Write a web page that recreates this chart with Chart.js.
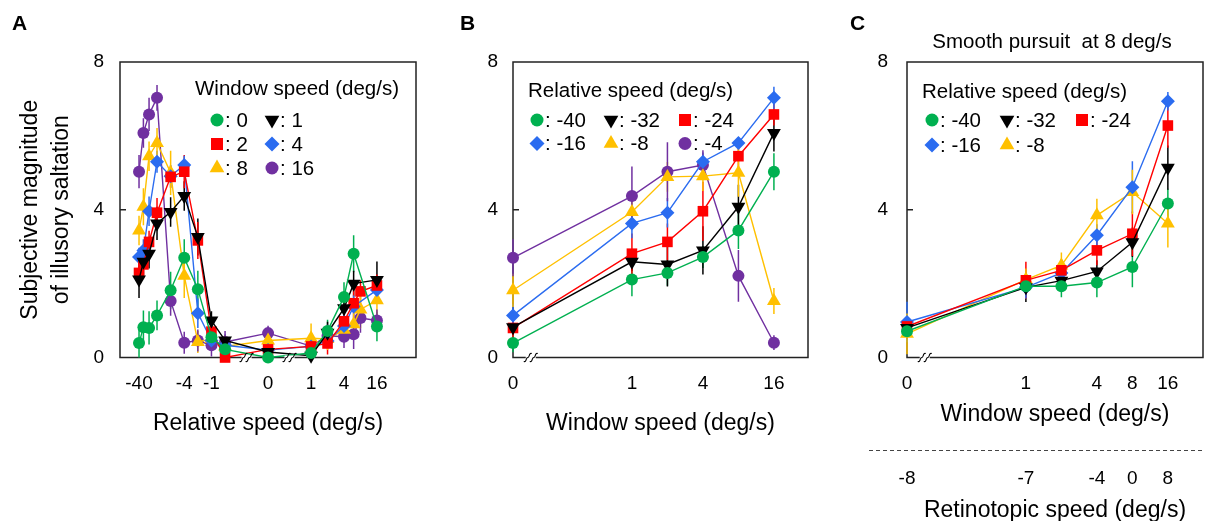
<!DOCTYPE html>
<html>
<head>
<meta charset="utf-8">
<script src="https://cdn.jsdelivr.net/npm/chart.js@4.4.0/dist/chart.umd.min.js"></script>
<style>
  html, body { margin: 0; padding: 0; background: #fff; }
  body { width: 1221px; height: 521px; position: relative; overflow: hidden; }
  canvas { position: absolute; left: 0; top: 0; }
</style>
</head>
<body>
<canvas id="chartA" width="1221" height="560"></canvas>
<canvas id="chartB" width="1221" height="560"></canvas>
<canvas id="chartC" width="1221" height="560"></canvas>
<script>
// ---- Panel A: magnitude vs relative speed, one line per window speed ----
const relSpeedsA = [-40, -32, -24, -16, -8, -4, -2, -1, -0.5, 0, 1, 2, 4, 6, 8, 16];
const relTicksA = [-40, -4, -1, 0, 1, 4, 16];
const windowLabelsA = ['0', '1', '2', '4', '8', '16'];
const magA_w0  = [0.39, 0.82, 0.80, 1.14, 1.82, 2.70, 1.85, 0.55, 0.22, 0.00, 0.12, 0.72, 1.64, 2.81, null, 0.84];
const magA_w1  = [2.11, 2.59, 2.81, 3.63, 3.94, 4.37, 3.26, 1.00, 0.46, 0.15, 0.05, 0.67, 1.33, 2.00, null, 2.10];
const magA_w2  = [2.29, 2.52, 3.13, 3.92, 4.89, 5.03, 3.17, 0.70, 0.00, 0.22, 0.30, 0.38, 0.98, 1.47, 1.79, 1.95];
const magA_w4  = [2.72, 2.90, 3.96, 5.30, 4.91, 5.21, 1.20, 0.46, 0.33, 0.20, 0.30, 0.45, 0.85, 1.38, null, 1.83];
const magA_w8  = [3.44, 4.08, 5.45, 5.81, 5.00, 2.21, 0.42, 0.50, 0.30, 0.46, 0.52, 0.50, 0.75, 0.90, 1.30, 1.55];
const magA_w16 = [5.03, 6.08, 6.58, 7.03, 1.53, 0.40, 0.46, 0.33, 0.42, 0.66, 0.31, 0.59, 0.56, 0.63, 1.07, 1.00];
const errA_w0  = [0.45, 0.45, 0.45, 0.40, 0.50, 0.50, 0.50, 0.30, 0.20, 0.05, 0.15, 0.30, 0.40, 0.50, null, 0.40];
const errA_w1  = [0.50, 0.40, 0.40, 0.45, 0.40, 0.40, 0.50, 0.25, 0.15, 0.10, 0.05, 0.30, 0.30, 0.35, null, 0.50];
const errA_w2  = [0.35, 0.35, 0.30, 0.40, 0.30, 0.45, 0.50, 0.30, 0.05, 0.15, 0.15, 0.30, 0.30, 0.40, 0.30, 0.30];
const errA_w4  = [0.25, 0.30, 0.40, 0.30, 0.30, 0.25, 0.40, 0.20, 0.30, 0.10, 0.10, 0.20, 0.30, 0.30, null, 0.30];
const errA_w8  = [0.40, 0.50, 0.40, 0.40, 0.60, 0.60, 0.30, 0.20, 0.30, 0.15, 0.40, 0.30, 0.30, 0.30, 0.50, 0.40];
const errA_w16 = [0.45, 0.40, 0.45, 0.35, 0.40, 0.30, 0.30, 0.30, 0.30, 0.20, 0.20, 0.30, 0.30, 0.40, 0.40, 0.30];

// ---- Panel B: magnitude vs window speed, one line per relative speed ----
const windowSpeedsB = [0, 1, 2, 4, 8, 16];
const windowTicksB = [0, 1, 4, 16];
const relLabelsB = ['-40', '-32', '-24', '-16', '-8', '-4'];
const magB_r40 = [0.39, 2.11, 2.29, 2.72, 3.44, 5.03];
const magB_r32 = [0.82, 2.59, 2.52, 2.90, 4.08, 6.08];
const magB_r24 = [0.80, 2.81, 3.13, 3.96, 5.45, 6.58];
const magB_r16 = [1.14, 3.63, 3.92, 5.30, 5.81, 7.03];
const magB_r8  = [1.82, 3.94, 4.89, 4.91, 5.00, 1.53];
const magB_r4  = [2.70, 4.37, 5.03, 5.21, 2.21, 0.40];
const errB_r40 = [0.25, 0.45, 0.35, 0.30, 0.50, 0.50];
const errB_r32 = [0.20, 0.25, 0.60, 0.65, 0.60, 0.50];
const errB_r24 = [0.30, 0.55, 0.50, 0.80, 0.30, 0.30];
const errB_r16 = [0.30, 0.40, 0.40, 0.25, 0.15, 0.30];
const errB_r8  = [0.45, 0.30, 0.40, 0.40, 0.65, 0.35];
const errB_r4  = [0.50, 0.80, 0.80, 0.40, 0.70, 0.20];

// ---- Panel C: smooth pursuit at 8 deg/s ----
const windowSpeedsC = [0, 1, 2, 4, 8, 16];
const windowTicksC = [0, 1, 4, 8, 16];
const retinoTicksC = [-8, -7, -4, 0, 8];
const relLabelsC = ['-40', '-32', '-24', '-16', '-8'];
const magC_r40 = [0.71, 1.93, 1.93, 2.03, 2.45, 4.17];
const magC_r32 = [0.80, 1.90, 2.08, 2.33, 3.12, 5.14];
const magC_r24 = [0.84, 2.09, 2.36, 2.90, 3.35, 6.28];
const magC_r16 = [0.96, 1.90, 2.29, 3.31, 4.61, 6.94];
const magC_r8  = [0.64, 2.11, 2.49, 3.85, 4.48, 3.63];
const errC_r40 = [0.30, 0.25, 0.30, 0.40, 0.55, 0.40];
const errC_r32 = [0.30, 0.40, 0.30, 0.30, 0.40, 0.60];
const errC_r24 = [0.30, 0.50, 0.30, 0.40, 0.60, 0.60];
const errC_r16 = [0.55, 0.30, 0.20, 0.30, 0.70, 0.25];
const errC_r8  = [0.55, 0.30, 0.35, 0.45, 0.60, 0.65];

const FONT = "'Liberation Sans', Arial, Helvetica, sans-serif";
const SERIES_STYLE = [
    { color: '#00b050', style: 'circle',   rot: 0 },
    { color: '#000000', style: 'triangle', rot: 180 },
    { color: '#ff0000', style: 'rect',     rot: 0 },
    { color: '#2b6cf0', style: 'rectRot',  rot: 0 },
    { color: '#ffc000', style: 'triangle', rot: 0 },
    { color: '#7030a0', style: 'circle',   rot: 0 }
];
const MARK_R = { circle: 6, triangle: 8, rect: 7.5, rectRot: 7 };
const LEG_R = { circle: 6.5, triangle: 8.5, rect: 8.5, rectRot: 7.5 };

// axis transforms (log2 with broken axis around zero)
function posRel(r) {
    if (r < 0) return -Math.log2(-r);
    if (r === 0) return 4.16;
    return 7.32 + 1.21 * Math.log2(r);
}
function posWin(w) {
    return w === 0 ? 0 : 3.35 + Math.log2(w);
}

function makeDatasets(labels, ys, errs, xs, xfun) {
    return labels.map((lab, k) => {
        const st = SERIES_STYLE[k];
        return {
            label: lab,
            data: xs.map((v, i) => ({ x: xfun(v), y: ys[k][i] })),
            errors: errs[k],
            borderColor: st.color,
            backgroundColor: st.color,
            pointBackgroundColor: st.color,
            pointBorderColor: st.color,
            pointBorderWidth: 0,
            borderWidth: 1.4,
            pointStyle: st.style,
            pointRotation: st.rot,
            pointRadius: MARK_R[st.style],
            tension: 0,
            spanGaps: true,
            clip: false
        };
    });
}

// frame box + inward tick at y = 4
const framePlugin = {
    id: 'frameBox',
    beforeDatasetsDraw(chart) {
        const { ctx, chartArea: a } = chart;
        const y4 = chart.scales.y.getPixelForValue(4);
        ctx.save();
        ctx.strokeStyle = '#222';
        ctx.lineWidth = 1.5;
        ctx.strokeRect(a.left, a.top, a.right - a.left, a.bottom - a.top);
        ctx.beginPath();
        ctx.moveTo(a.left, y4);
        ctx.lineTo(a.left + 6, y4);
        ctx.stroke();
        ctx.restore();
    }
};

// vertical error bars
const errorBarPlugin = {
    id: 'errorBars',
    beforeDatasetsDraw(chart) {
        const { ctx, chartArea: a } = chart;
        const xs = chart.scales.x, ys = chart.scales.y;
        ctx.save();
        ctx.beginPath();
        ctx.rect(a.left - 10, a.top, a.right - a.left + 20, a.bottom - a.top);
        ctx.clip();
        chart.data.datasets.forEach(ds => {
            ctx.strokeStyle = ds.borderColor;
            ctx.lineWidth = 1.5;
            ds.data.forEach((p, i) => {
                const e = ds.errors[i];
                if (p.y == null || e == null) return;
                const px = xs.getPixelForValue(p.x);
                ctx.beginPath();
                ctx.moveTo(px, ys.getPixelForValue(p.y - e));
                ctx.lineTo(px, ys.getPixelForValue(p.y + e));
                ctx.stroke();
            });
        });
        ctx.restore();
    }
};

function legendPlugin(cfg) {
    return {
        id: 'panelLegend',
        afterDraw(chart) {
            const { ctx, chartArea: a } = chart;
            ctx.save();
            ctx.font = '20.5px ' + FONT;
            ctx.textBaseline = 'middle';
            ctx.textAlign = 'left';
            ctx.fillStyle = '#000';
            ctx.fillText(cfg.title, a.left + cfg.titleX, a.top + cfg.titleY);
            chart.data.datasets.forEach((ds, i) => {
                const col = i % cfg.cols, row = Math.floor(i / cfg.cols);
                const mx = a.left + cfg.x0 + col * cfg.dx;
                const my = a.top + cfg.y0 + row * cfg.dy;
                ctx.fillStyle = ds.pointBackgroundColor;
                ctx.strokeStyle = ds.pointBackgroundColor;
                Chart.helpers.drawPoint(ctx, {
                    pointStyle: ds.pointStyle, rotation: ds.pointRotation,
                    radius: LEG_R[ds.pointStyle], borderWidth: 0
                }, mx, my);
                ctx.fillStyle = '#000';
                ctx.fillText(': ' + ds.label, mx + 8, my + 1);
            });
            ctx.restore();
        }
    };
}

// "//" marks where the x axis is broken
function breakPlugin(values) {
    return {
        id: 'axisBreaks',
        afterDraw(chart) {
            const { ctx, chartArea: a } = chart;
            const yb = a.bottom;
            ctx.save();
            values.forEach(v => {
                const px = chart.scales.x.getPixelForValue(v);
                ctx.fillStyle = '#fff';
                ctx.fillRect(px - 5, yb - 2, 10, 4);
                ctx.strokeStyle = '#000';
                ctx.lineWidth = 1.1;
                [-3, 3].forEach(d => {
                    const cx = px + d;
                    ctx.beginPath();
                    ctx.moveTo(cx - 4, yb + 4);
                    ctx.bezierCurveTo(cx - 1, yb + 5, cx - 2, yb, cx, yb);
                    ctx.bezierCurveTo(cx + 2, yb, cx + 1, yb - 5, cx + 4, yb - 4);
                    ctx.stroke();
                });
            });
            ctx.restore();
        }
    };
}

function decorPlugin(draw) {
    return { id: 'decor', afterDraw(chart) { chart.ctx.save(); draw(chart.ctx); chart.ctx.restore(); } };
}

function letter(ctx, txt, x, y) {
    ctx.font = 'bold 21px ' + FONT;
    ctx.fillStyle = '#000';
    ctx.textAlign = 'left';
    ctx.textBaseline = 'alphabetic';
    ctx.fillText(txt, x, y);
}

function xAxis(o) {
    return {
        type: 'linear', position: 'bottom', weight: o.weight || 0,
        min: o.min, max: o.max,
        afterBuildTicks: s => { s.ticks = o.tickVals.map(v => ({ value: o.fn(v) })); },
        afterFit: s => { s.height = o.height; },
        grid: { display: false, drawTicks: false },
        border: { display: false },
        ticks: {
            autoSkip: false, maxRotation: 0, padding: o.tickPad, color: '#000',
            font: { family: FONT, size: 19 },
            callback: (v, i) => String(o.tickText[i])
        },
        title: {
            display: true, text: o.title, color: '#000',
            font: { family: FONT, size: 23, lineHeight: 1.2 },
            padding: { top: 0, bottom: o.titlePad }
        }
    };
}

function yAxis(width, pad, title) {
    const ax = {
        min: 0, max: 8,
        afterFit: s => { s.width = width; },
        grid: { display: false, drawTicks: false },
        border: { display: false },
        ticks: { stepSize: 4, padding: pad, color: '#000', font: { family: FONT, size: 19 } }
    };
    if (title) {
        ax.title = {
            display: true, text: title, color: '#000',
            font: { family: FONT, size: 23, lineHeight: 1.35 },
            padding: { top: 15.5, bottom: 0 }
        };
    }
    return ax;
}

function panelChart(id, o) {
    return new Chart(document.getElementById(id), {
        type: 'line',
        data: { datasets: o.datasets },
        options: {
            responsive: false,
            animation: false,
            events: [],
            layout: { padding: { left: o.padLeft, right: o.padRight, top: 62, bottom: 0 } },
            plugins: { legend: { display: false }, tooltip: { enabled: false } },
            scales: o.scales
        },
        plugins: [framePlugin, errorBarPlugin, legendPlugin(o.legend), breakPlugin(o.breaks), decorPlugin(o.decor)]
    });
}

// Panel A
panelChart('chartA', {
    datasets: makeDatasets(windowLabelsA,
        [magA_w0, magA_w1, magA_w2, magA_w4, magA_w8, magA_w16],
        [errA_w0, errA_w1, errA_w2, errA_w4, errA_w8, errA_w16],
        relSpeedsA, posRel),
    padLeft: 0, padRight: 805,
    scales: {
        x: xAxis({ min: -6.72, max: 15.03, fn: posRel, tickVals: relTicksA, tickText: relTicksA,
            height: 202.5, tickPad: 15, title: 'Relative speed (deg/s)', titlePad: 123 }),
        y: yAxis(120, 16, ['Subjective magnitude', 'of illusory saltation'])
    },
    legend: { title: 'Window speed (deg/s)', titleX: 75, titleY: 27, x0: 97, y0: 58, dx: 55, dy: 24, cols: 2 },
    breaks: [(posRel(-0.5) + posRel(0)) / 2, (posRel(0) + posRel(1)) / 2],
    decor: ctx => letter(ctx, 'A', 12, 30)
});

// Panel B
panelChart('chartB', {
    datasets: makeDatasets(relLabelsB,
        [magB_r40, magB_r32, magB_r24, magB_r16, magB_r8, magB_r4],
        [errB_r40, errB_r32, errB_r24, errB_r16, errB_r8, errB_r4],
        windowSpeedsB, posWin),
    padLeft: 473, padRight: 413,
    scales: {
        x: xAxis({ min: 0, max: 8.31, fn: posWin, tickVals: windowTicksB, tickText: windowTicksB,
            height: 202.5, tickPad: 15, title: 'Window speed (deg/s)', titlePad: 123 }),
        y: yAxis(40, 15)
    },
    legend: { title: 'Relative speed (deg/s)', titleX: 15, titleY: 29, x0: 24, y0: 58, dx: 74, dy: 23.5, cols: 3 },
    breaks: [posWin(0) + 0.5],
    decor: ctx => letter(ctx, 'B', 460, 30)
});

// Panel C
panelChart('chartC', {
    datasets: makeDatasets(relLabelsC,
        [magC_r40, magC_r32, magC_r24, magC_r16, magC_r8],
        [errC_r40, errC_r32, errC_r24, errC_r16, errC_r8],
        windowSpeedsC, posWin),
    padLeft: 867, padRight: 18,
    scales: {
        x: xAxis({ min: 0, max: 8.34, fn: posWin, tickVals: windowTicksC, tickText: windowTicksC,
            height: 77.5, tickPad: 15, title: 'Window speed (deg/s)', titlePad: 6.2 }),
        x2: xAxis({ weight: 1, min: 0, max: 8.34, fn: posWin, tickVals: windowTicksC, tickText: retinoTicksC,
            height: 125, tickPad: 32.6, title: 'Retinotopic speed (deg/s)', titlePad: 35.7 }),
        y: yAxis(40, 19)
    },
    legend: { title: 'Relative speed (deg/s)', titleX: 15, titleY: 30, x0: 25, y0: 58, dx: 75, dy: 25, cols: 3 },
    breaks: [posWin(0) + 0.5],
    decor: ctx => {
        letter(ctx, 'C', 850, 30);
        ctx.font = '20.5px ' + FONT;
        ctx.textAlign = 'center';
        ctx.textBaseline = 'middle';
        ctx.fillText('Smooth pursuit  at 8 deg/s', 1052, 42);
        ctx.strokeStyle = '#444';
        ctx.lineWidth = 1;
        ctx.setLineDash([4, 3]);
        ctx.beginPath();
        ctx.moveTo(869, 450.5);
        ctx.lineTo(1205, 450.5);
        ctx.stroke();
    }
});
</script>
</body>
</html>
